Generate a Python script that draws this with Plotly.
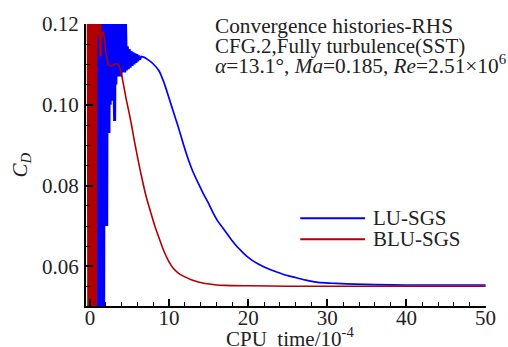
import plotly.graph_objects as go

# ---------------- data ----------------
# LU-SGS: oscillating start (drawn as straight segments)
lu_osc_x = [0.60, 0.675, 0.75, 0.825, 0.90, 0.975, 1.05, 1.125, 1.20, 1.275, 1.35, 1.425, 1.50, 1.575, 1.65, 1.725, 1.80,
            1.87, 1.93, 2.00, 2.06, 2.12, 2.18, 2.25, 2.32, 2.40, 2.48, 2.56, 2.64, 2.72, 2.80, 2.88, 2.96, 3.04, 3.12, 3.20,
            3.28, 3.36, 3.44, 3.52, 3.60, 3.68, 3.76, 3.84, 3.92, 4.00, 4.08, 4.16, 4.24, 4.32, 4.40, 4.48,
            4.60, 4.72, 4.84, 4.96, 5.08, 5.20, 5.32, 5.44, 5.56, 5.68, 5.80, 5.92, 6.04, 6.16, 6.28, 6.40]
lu_osc_y = [0.130, 0.040, 0.130, 0.040, 0.130, 0.040, 0.130, 0.040, 0.130, 0.040, 0.130, 0.040, 0.130, 0.040, 0.130, 0.040, 0.130,
            0.078, 0.130, 0.070, 0.130, 0.070, 0.130, 0.093, 0.130, 0.093, 0.130, 0.100, 0.130, 0.101, 0.130, 0.104, 0.130, 0.104, 0.096, 0.130,
            0.105, 0.130, 0.107, 0.130, 0.107, 0.130, 0.108, 0.130, 0.107, 0.125, 0.108, 0.125, 0.108, 0.125, 0.108, 0.122,
            0.1085, 0.1145, 0.1088, 0.1138, 0.1092, 0.1133, 0.1096, 0.1130, 0.1100, 0.1127, 0.1104, 0.1125, 0.1108, 0.1122, 0.1112, 0.1120]
# LU-SGS: smooth convergence part
lu_x = [6.4, 6.8, 7.45, 8.0, 8.7, 9.3, 9.94, 10.5, 11.18, 11.8, 12.42, 13.0, 13.66, 14.3, 14.91, 15.5, 16.15, 16.8,
        17.39, 18.0, 18.63, 19.3, 19.88, 20.5, 21.1, 22.3, 23.6, 24.8, 26.1, 27.3, 28.6, 29.8, 31.1, 33.5, 36.0,
        40.0, 45.0, 50.0]
lu_y = [0.1120, 0.1118, 0.1110, 0.1101, 0.1085, 0.1058, 0.1020, 0.0985, 0.0944, 0.0903, 0.0865, 0.0835, 0.0807, 0.0781,
        0.0759, 0.0735, 0.0712, 0.0695, 0.0679, 0.0663, 0.0648, 0.0635, 0.0624, 0.0615, 0.0608, 0.0596, 0.0586, 0.0578,
        0.0572, 0.0566, 0.0561, 0.0559, 0.0558, 0.0556, 0.0555, 0.0554, 0.0554, 0.0554]

# BLU-SGS: oscillating start
blu_osc_x = [-0.25, -0.175, -0.10, -0.025, 0.05, 0.125, 0.20, 0.275, 0.35, 0.425, 0.50, 0.575, 0.65, 0.725, 0.80,
             0.88, 0.96, 1.04, 1.12, 1.20, 1.28, 1.33]
blu_osc_y = [0.130, 0.040, 0.130, 0.040, 0.130, 0.040, 0.130, 0.040, 0.130, 0.040, 0.130, 0.040, 0.130, 0.040, 0.130,
             0.117, 0.130, 0.117, 0.130, 0.117, 0.130, 0.112]
# BLU-SGS: smooth convergence part
blu_x = [1.33, 1.5, 1.65, 1.75, 1.85, 2.0, 2.2, 2.48, 2.9, 3.2, 3.5, 3.8, 4.14, 4.6, 4.97, 5.3, 5.6, 6.1, 6.6, 7.1,
         7.66, 8.2, 8.7, 9.3, 9.94, 10.5, 11.2, 12.0, 12.8, 13.8, 14.9, 16.0, 17.0, 20.0, 25.0, 30.0, 40.0, 50.0]
blu_y = [0.1120, 0.1165, 0.1181, 0.1175, 0.1160, 0.1130, 0.1108, 0.1097, 0.1098, 0.1101, 0.1101, 0.1090, 0.1060,
         0.1012, 0.0978, 0.0945, 0.0912, 0.0862, 0.0815, 0.0773, 0.0735, 0.0700, 0.0672, 0.0640, 0.0613, 0.0596,
         0.0583, 0.0574, 0.0567, 0.0561, 0.0557, 0.0554, 0.0553, 0.0552, 0.0551, 0.0551, 0.0551, 0.0551]

x_ticks = [0, 10, 20, 30, 40, 50]
y_ticks = [0.06, 0.08, 0.10, 0.12]
series_names = ["LU-SGS", "BLU-SGS"]

# ---------------- layout helpers ----------------
W, H = 508, 347
L, R, T, B = 86, 493, 17, 306
FONT = "Liberation Serif, Times New Roman, serif"
BLUE = "#0000FF"
RED = "#B00000"
TXT = "#222222"


def px(xp):
    return (xp - L) / (R - L)


def py(yp):
    return (B - yp) / (B - T)


fig = go.Figure()
fig.add_trace(go.Scatter(x=lu_osc_x, y=lu_osc_y, mode="lines", name=series_names[0],
                         line=dict(color=BLUE, width=3), showlegend=False))
fig.add_trace(go.Scatter(x=lu_x, y=lu_y, mode="lines", name=series_names[0],
                         line=dict(color=BLUE, width=1.7, shape="spline", smoothing=0.8), showlegend=False))
fig.add_trace(go.Scatter(x=blu_osc_x, y=blu_osc_y, mode="lines", name=series_names[1],
                         line=dict(color=RED, width=2.6), showlegend=False))
fig.add_trace(go.Scatter(x=blu_x, y=blu_y, mode="lines", name=series_names[1],
                         line=dict(color=RED, width=1.6, shape="spline", smoothing=0.8), showlegend=False))

axis_common = dict(showline=True, linecolor="black", linewidth=2, showgrid=False, zeroline=False,
                   ticks="inside", tickcolor="black", tickwidth=2, ticklen=7,
                   tickfont=dict(family=FONT, size=21, color=TXT))

fig.update_xaxes(range=[-0.5, 50.05], tickvals=x_ticks, ticktext=[str(v) for v in x_ticks],
                 minor=dict(dtick=2, tick0=0, ticks="inside", ticklen=4, tickwidth=1, tickcolor="black"),
                 ticklabelstandoff=-8, **axis_common)
fig.update_yaxes(range=[0.0502, 0.12], tickvals=y_ticks, ticktext=["%.2f" % v for v in y_ticks],
                 minor=dict(dtick=0.005, tick0=0.06, ticks="inside", ticklen=4, tickwidth=1, tickcolor="black"),
                 ticklabelstandoff=1, **axis_common)

ann = []
txt_font = dict(family=FONT, size=21, color=TXT)
lines = [("Convergence histories-RHS", 21.3),
         ("CFG.2,Fully turbulence(SST)", 21),
         ("<i>α</i>=13.1°, <i>Ma</i>=0.185, <i>Re</i>=2.51×10<sup>6</sup>", 21.3)]
for (t, fs), yc in zip(lines, [19, 39.5, 58.5]):
    ann.append(dict(text=t, xref="paper", yref="paper", x=px(215), y=py(yc), xanchor="left", yanchor="middle",
                    showarrow=False, font=dict(family=FONT, size=fs, color=TXT)))

# legend (manual)
shapes = []
for name, col, yc in zip(series_names, [BLUE, RED], [216, 237.5]):
    shapes.append(dict(type="line", xref="paper", yref="paper", x0=px(304), x1=px(370), y0=py(yc), y1=py(yc),
                       line=dict(color=col, width=2)))
    ann.append(dict(text=name, xref="paper", yref="paper", x=px(376), y=py(yc), xanchor="left", yanchor="middle",
                    showarrow=False, font=txt_font))

# axis titles
ann.append(dict(text="CPU&nbsp; time/10<sup>-4</sup>", xref="paper", yref="paper", x=px(294), y=py(338),
                xanchor="center", yanchor="middle", showarrow=False, font=txt_font))
ann.append(dict(text="<i>C<sub>D</sub></i>", xref="paper", yref="paper", x=px(20), y=py(162),
                xanchor="center", yanchor="middle", textangle=-90, showarrow=False, font=txt_font))

fig.update_layout(width=W, height=H, margin=dict(l=L, r=W - R, t=T, b=H - B),
                  font=dict(family=FONT, size=21, color=TXT),
                  plot_bgcolor="white", paper_bgcolor="white",
                  annotations=ann, shapes=shapes, showlegend=False)

fig.write_html("out.html")
